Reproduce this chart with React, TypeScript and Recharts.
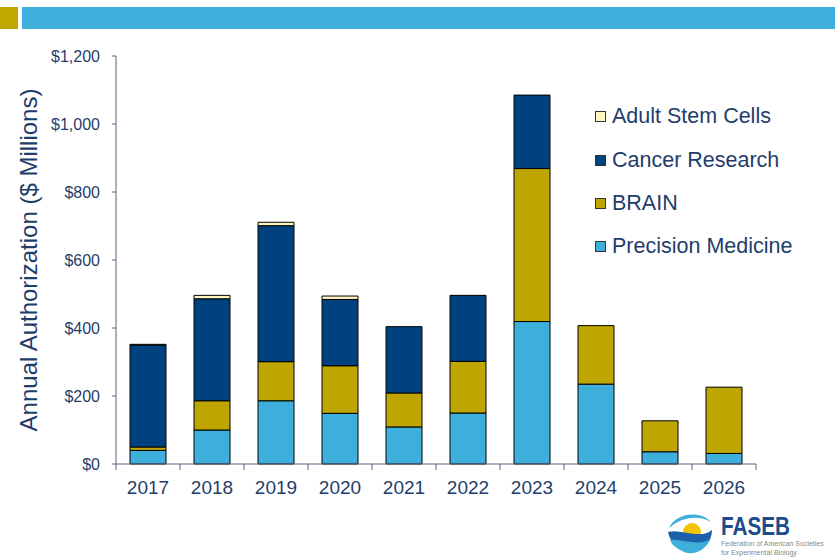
import React from "react";
import { BarChart, Bar, XAxis, YAxis } from "recharts";

const years = ["2017", "2018", "2019", "2020", "2021", "2022", "2023", "2024", "2025", "2026"];
const precisionMedicine = [40, 100, 186, 149, 109, 150, 419, 235, 36, 31];
const brain = [10, 86, 115, 140, 100, 152, 450, 172, 91, 195];
const cancerResearch = [300, 300, 400, 195, 195, 194, 216, 0, 0, 0];
const adultStemCells = [2, 10, 10, 10, 0, 0, 0, 0, 0, 0];
const yTicks = [0, 200, 400, 600, 800, 1000, 1200];

const TEXT = "#1f3d6b";
const AXIS = "#56657d";
const FONT = "'Liberation Sans', Arial, sans-serif";

const series = [
  { key: "precision", name: "Precision Medicine", color: "#3eaedb" },
  { key: "brain", name: "BRAIN", color: "#bfa500" },
  { key: "cancer", name: "Cancer Research", color: "#00427f" },
  { key: "stem", name: "Adult Stem Cells", color: "#fff6c2" },
];

const data = years.map((year, i) => ({
  year,
  precision: precisionMedicine[i],
  brain: brain[i],
  cancer: cancerResearch[i],
  stem: adultStemCells[i],
}));

const BAND = 64;

function YearTick(props: any) {
  const { x, y, payload, index } = props;
  return (
    <g>
      <line x1={x - BAND / 2} x2={x - BAND / 2} y1={y} y2={y + 6} stroke={AXIS} />
      {index === years.length - 1 && (
        <line x1={x + BAND / 2} x2={x + BAND / 2} y1={y} y2={y + 6} stroke={AXIS} />
      )}
      <text x={x} y={y + 30} textAnchor="middle" fill={TEXT} fontSize={19} fontFamily={FONT}>
        {payload.value}
      </text>
    </g>
  );
}

// legend drawn on top so it does not take room from the plot
function LegendBox() {
  return (
    <div style={{ position: "absolute", top: 95, left: 595, width: 240, fontFamily: FONT }}>
      {[...series].reverse().map((s) => (
        <div key={s.key} style={{ display: "flex", alignItems: "center", height: 43.4 }}>
          <span
            style={{
              width: 9,
              height: 9,
              background: s.color,
              border: "1px solid #333",
              marginRight: 6,
              display: "inline-block",
            }}
          />
          <span style={{ fontSize: 21.5, color: TEXT }}>{s.name}</span>
        </div>
      ))}
    </div>
  );
}

export default function App() {
  return (
    <div style={{ position: "absolute", left: 0, top: 0, width: 835, height: 558, background: "#fff" }}>
      <div style={{ position: "absolute", left: 0, top: 7, width: 18, height: 22, background: "#c0a800" }} />
      <div style={{ position: "absolute", left: 22, top: 7, width: 813, height: 22, background: "#3eaedb" }} />

      <BarChart
        width={835}
        height={558}
        data={data}
        margin={{ top: 56, right: 79, bottom: 64, left: 0 }}
        barSize={36}
      >
        <YAxis
          width={116}
          domain={[0, 1200]}
          ticks={yTicks}
          tickFormatter={(v: number) => `$${v.toLocaleString("en-US")}`}
          tick={{ fill: TEXT, fontSize: 16, fontFamily: FONT }}
          tickSize={4}
          tickMargin={12}
          stroke={AXIS}
        />
        <XAxis
          dataKey="year"
          height={30}
          stroke={AXIS}
          tickLine={false}
          tickSize={0}
          tickMargin={0}
          tick={<YearTick />}
          interval={0}
        />
        {series.map((s) => (
          <Bar
            key={s.key}
            dataKey={s.key}
            name={s.name}
            stackId="total"
            fill={s.color}
            stroke="#000"
            strokeWidth={1}
            isAnimationActive={false}
          />
        ))}
      </BarChart>

      <LegendBox />

      <svg
        width={835}
        height={558}
        style={{ position: "absolute", left: 0, top: 0, pointerEvents: "none" }}
      >
        <text
          transform="translate(37,260) rotate(-90)"
          textAnchor="middle"
          fill={TEXT}
          fontSize={24}
          fontFamily={FONT}
        >
          Annual Authorization ($ Millions)
        </text>

        <g>
          <path d="M669,528 C676,513 700,510 711,522 C700,515 682,516 669,528 Z" fill="#3eaedb" />
          <circle cx={692} cy={532} r={9} fill="#f2c300" />
          <path d="M668,532 C680,528 700,540 712,530 C712,545 698,554 688,552 C678,550 670,542 668,532 Z" fill="#1d5fa8" />
          <path d="M670,540 C682,538 700,548 711,538 C706,550 694,556 684,552 C676,548 672,545 670,540 Z" fill="#3eaedb" />
        </g>
        <text
          x={721}
          y={535}
          fill="#1e4b8a"
          fontSize={25}
          fontWeight="bold"
          fontFamily={FONT}
          textLength={69}
          lengthAdjust="spacingAndGlyphs"
        >
          FASEB
        </text>
        <text x={721} y={546} fill="#888" fontSize={7} fontFamily={FONT}>
          Federation of American Societies
        </text>
        <text x={721} y={555} fill="#888" fontSize={7} fontFamily={FONT}>
          for Experimental Biology
        </text>
      </svg>
    </div>
  );
}
